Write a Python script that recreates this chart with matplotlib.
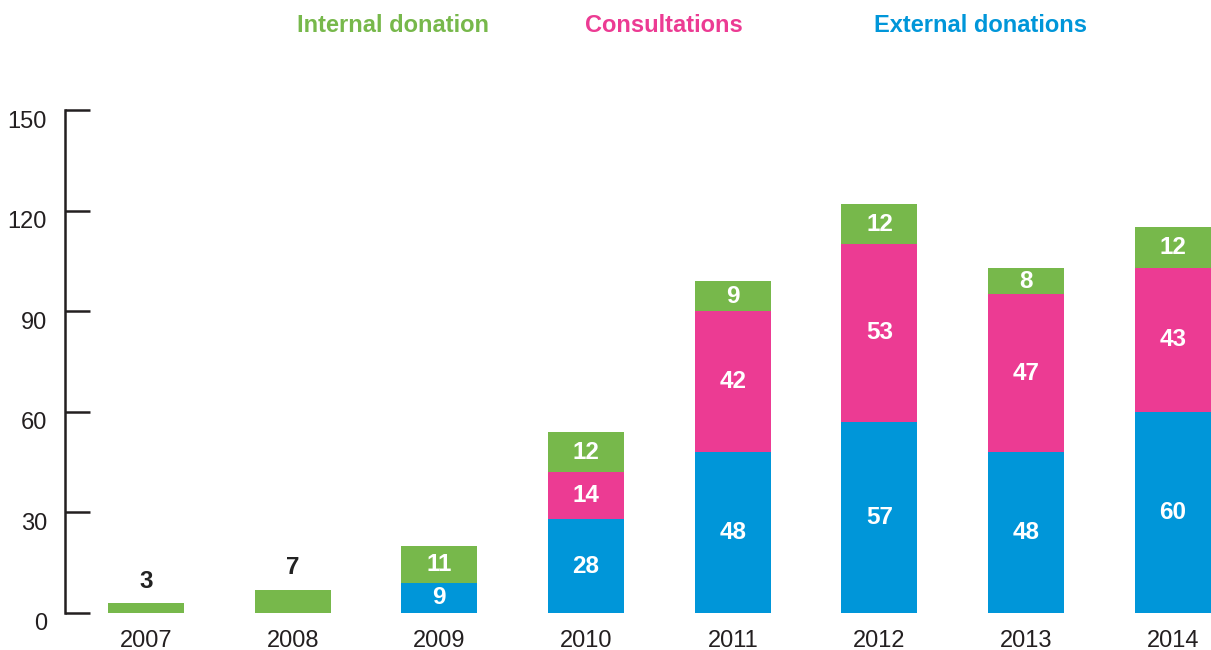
import matplotlib.pyplot as plt
import matplotlib.transforms as mtransforms
import numpy as np

years = ["2007", "2008", "2009", "2010", "2011", "2012", "2013", "2014"]
external = [0, 0, 9, 28, 48, 57, 48, 60]
consultations = [0, 0, 0, 14, 42, 53, 47, 43]
internal = [3, 7, 11, 12, 9, 12, 8, 12]

series_names = ["Internal donation", "Consultations", "External donations"]
c_green = "#77B84B"
c_pink = "#EC3B93"
c_blue = "#0096D9"

plt.rcParams['font.family'] = ['Liberation Sans', 'DejaVu Sans']

fig = plt.figure(figsize=(12.11, 6.5), dpi=100)
ax = fig.add_axes([65 / 1211, 37 / 650, 1 - 65 / 1211, 503 / 650])

x = np.arange(len(years))
w = 0.518
ext = np.array(external)
con = np.array(consultations)
inn = np.array(internal)

ax.bar(x, ext, w, color=c_blue)
ax.bar(x, con, w, bottom=ext, color=c_pink)
ax.bar(x, inn, w, bottom=ext + con, color=c_green)

lab = dict(color="white", fontsize=17.5, fontweight="bold", ha="center", va="center")
for i in range(len(years)):
    if ext[i] > 0:
        ax.text(x[i], ext[i] / 2, str(ext[i]), **lab)
    if con[i] > 0:
        ax.text(x[i], ext[i] + con[i] / 2, str(con[i]), **lab)
    top = ext[i] + con[i]
    if top == 0:
        # only a small green bar: value goes above it
        ax.text(x[i], inn[i] + 3, str(inn[i]), color="#222222", fontsize=17.5,
                fontweight="bold", ha="center", va="bottom")
    else:
        ax.text(x[i], top + inn[i] / 2, str(inn[i]), **lab)

ax.set_xlim(-0.552, 7.26)
ax.set_ylim(0, 150)
ax.set_yticks([0, 30, 60, 90, 120, 150])
ax.set_xticks(x)
ax.set_xticklabels(years)

for s in ["top", "right", "bottom"]:
    ax.spines[s].set_visible(False)
ax.spines["left"].set_linewidth(1.8)
ax.spines["left"].set_color("#231F20")
ax.tick_params(axis="y", direction="in", length=18, width=1.8, color="#231F20",
               labelsize=17, pad=13, labelcolor="#231F20")
ax.tick_params(axis="x", length=0, labelsize=17, pad=12, labelcolor="#231F20")

# y labels sit a little below their ticks
shift = mtransforms.ScaledTranslation(0, -9 / 100, fig.dpi_scale_trans)
for t in ax.get_yticklabels():
    t.set_transform(t.get_transform() + shift)

# coloured series names across the top
for name, col, cx in zip(series_names, [c_green, c_pink, c_blue], [393, 664, 981]):
    fig.text(cx / 1211, 1 - 25 / 650, name, color=col, fontsize=17, fontweight="bold",
             ha="center", va="center",
             family=["Liberation Sans Narrow", "Liberation Sans"])

fig.savefig("out.png", dpi=100)
